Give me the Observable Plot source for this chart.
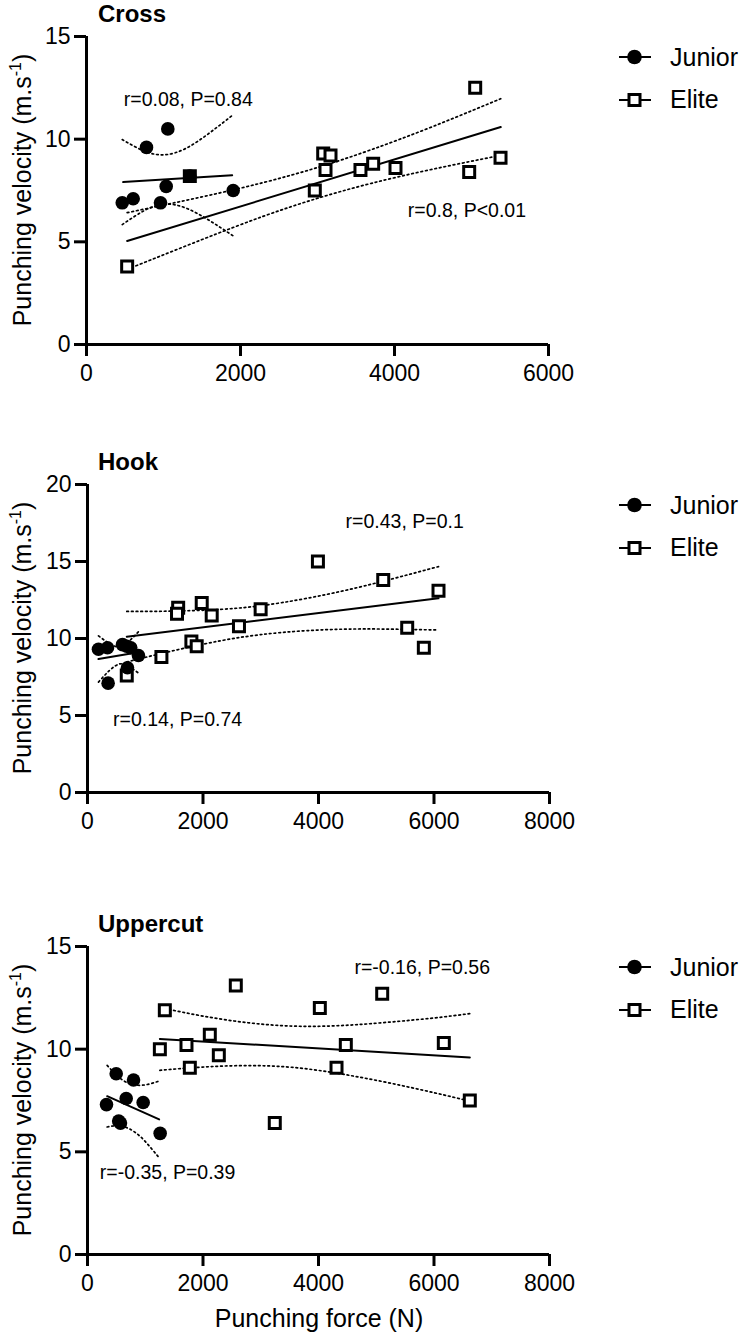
<!DOCTYPE html>
<html>
<head>
<meta charset="utf-8">
<script src="https://cdn.jsdelivr.net/npm/d3@7"></script>
<script src="https://cdn.jsdelivr.net/npm/@observablehq/plot@0.6"></script>
<style>
  html, body { margin: 0; padding: 0; background: #fff; }
  #root { position: relative; width: 746px; height: 1339px; overflow: hidden; background: #fff;
          font-family: "Liberation Sans", Arial, sans-serif; color: #000; }
  .panel { position: absolute; left: 0; }
  .title { position: absolute; font-weight: bold; font-size: 24px; line-height: 1; white-space: nowrap; }
  .ylab { position: absolute; font-size: 25px; line-height: 1; white-space: nowrap;
          transform: translate(-50%, -50%) rotate(-90deg); }
  .ylab .sup { font-size: 16px; vertical-align: 10px; line-height: 0; }
  .xlab { position: absolute; font-size: 25px; line-height: 1; white-space: nowrap; transform: translateX(-50%); }
  .legsym { position: absolute; width: 40px; height: 20px; }
  .legtxt { position: absolute; font-size: 25px; line-height: 1; white-space: nowrap; }
</style>
</head>
<body>
<div id="root"></div>
<script>
// ---------------- data ----------------
const panelTitles = ["Cross", "Hook", "Uppercut"];
const groups = ["Junior", "Elite"];
const xTicksCross = [0, 2000, 4000, 6000];
const xTicksOther = [0, 2000, 4000, 6000, 8000];
const yTicksCross = [0, 5, 10, 15];
const yTicksHook = [0, 5, 10, 15, 20];
const yTicksUppercut = [0, 5, 10, 15];

// Cross
const crossJuniorForce = [464, 606, 779, 1056, 1035, 961, 1342, 1905];
const crossJuniorVel   = [6.9, 7.1, 9.6, 10.5, 7.7, 6.9, 8.2, 7.5];
const crossEliteForce  = [528, 1342, 2965, 3074, 3169, 3104, 3558, 3723, 4013, 4970, 5377, 5048];
const crossEliteVel    = [3.8, 8.2, 7.5, 9.3, 9.2, 8.5, 8.5, 8.8, 8.6, 8.4, 9.1, 12.5];
const crossJuniorFitForce = [476, 1892];
const crossJuniorFitVel   = [7.91, 8.24];
const crossEliteFitForce  = [528, 5380];
const crossEliteFitVel    = [5.04, 10.59];
const crossJuniorBandForce = [464, 750, 1018, 1300, 1600, 1905];
const crossJuniorBandUpper = [9.98, 9.42, 9.24, 9.57, 10.31, 11.19];
const crossJuniorBandLower = [5.84, 6.52, 6.84, 6.63, 6.03, 5.29];
const crossEliteBandForce  = [528, 1500, 2300, 3000, 3700, 4500, 5380];
const crossEliteBandUpper  = [6.42, 7.19, 7.89, 8.62, 9.49, 10.62, 11.97];
const crossEliteBandLower  = [3.66, 5.11, 6.25, 7.12, 7.85, 8.54, 9.21];
const crossStats = ["r=0.08, P=0.84", "r=0.8, P<0.01"];

// Hook
const hookJuniorForce = [190, 346, 357, 606, 680, 749, 882, 692];
const hookJuniorVel   = [9.3, 9.4, 7.1, 9.6, 9.5, 9.4, 8.9, 8.1];
const hookEliteForce  = [680, 1280, 1570, 1550, 1978, 2151, 1799, 1891, 2623, 2998, 3990, 5121, 6078, 5536, 5824];
const hookEliteVel    = [7.6, 8.8, 12.0, 11.6, 12.3, 11.5, 9.8, 9.5, 10.8, 11.9, 15.0, 13.8, 13.1, 10.7, 9.4];
const hookJuniorFitForce = [190, 882];
const hookJuniorFitVel   = [8.67, 9.10];
const hookEliteFitForce  = [680, 6078];
const hookEliteFitVel    = [10.12, 12.61];
const hookJuniorBandForce = [190, 380, 560, 720, 882];
const hookJuniorBandUpper = [10.17, 9.67, 9.45, 9.82, 10.44];
const hookJuniorBandLower = [7.17, 7.92, 8.35, 8.18, 7.76];
const hookEliteBandForce  = [680, 1500, 2300, 3000, 3800, 4800, 6078];
const hookEliteBandUpper  = [11.76, 11.78, 11.89, 12.13, 12.61, 13.42, 14.67];
const hookEliteBandLower  = [8.48, 9.22, 9.85, 10.25, 10.51, 10.62, 10.55];
const hookStats = ["r=0.14, P=0.74", "r=0.43, P=0.1"];

// Uppercut
const uppercutJuniorForce = [329, 497, 797, 670, 964, 571, 540, 1258];
const uppercutJuniorVel   = [7.3, 8.8, 8.5, 7.6, 7.4, 6.4, 6.5, 5.9];
const uppercutEliteForce  = [1339, 1253, 1714, 2118, 2274, 1772, 2568, 3243, 4023, 5103, 4473, 4312, 6170, 6620];
const uppercutEliteVel    = [11.9, 10.0, 10.2, 10.7, 9.7, 9.1, 13.1, 6.4, 12.0, 12.7, 10.2, 9.1, 10.3, 7.5];
const uppercutJuniorFitForce = [340, 1241];
const uppercutJuniorFitVel   = [7.71, 6.58];
const uppercutEliteFitForce  = [1253, 6620];
const uppercutEliteFitVel    = [10.5, 9.6];
const uppercutJuniorBandForce = [340, 520, 703, 900, 1080, 1241];
const uppercutJuniorBandUpper = [9.21, 8.69, 8.35, 8.24, 8.31, 8.45];
const uppercutJuniorBandLower = [6.21, 6.27, 6.15, 5.78, 5.25, 4.71];
const uppercutEliteBandForce  = [1253, 2000, 2800, 3600, 4400, 5200, 6000, 6620];
const uppercutEliteBandUpper  = [12.03, 11.61, 11.28, 11.12, 11.15, 11.31, 11.52, 11.73];
const uppercutEliteBandLower  = [8.97, 9.13, 9.20, 9.10, 8.79, 8.37, 7.88, 7.47];
const uppercutStats = ["r=-0.35, P=0.39", "r=-0.16, P=0.56"];

const yTitle = "Punching velocity (m.s";
const ySup = "-1";
const xTitle = "Punching force (N)";

// ---------------- drawing ----------------
const pts = (xs, ys) => xs.map((x, i) => ({x, y: ys[i]}));
const root = document.getElementById("root");

function makePanel(c) {
  const dotted = {x: "x", y: "y", stroke: "black", strokeWidth: 1.7, strokeDasharray: "1.7 3", curve: "natural"};
  const solid = {x: "x", y: "y", stroke: "black", strokeWidth: 2};
  const notes = c.stats.map((t, i) => ({x: c.noteAt[i][0], y: c.noteAt[i][1], text: t}));
  const svg = Plot.plot({
    width: 746,
    height: c.height,
    marginTop: c.mt, marginBottom: c.mb, marginLeft: c.ml, marginRight: c.mr,
    x: {domain: [0, c.xMax]},
    y: {domain: [0, c.yMax]},
    style: {fontFamily: "Liberation Sans, Arial, sans-serif", color: "black", background: "transparent", overflow: "visible"},
    marks: [
      Plot.line(pts(c.jbx, c.jbu), dotted),
      Plot.line(pts(c.jbx, c.jbl), dotted),
      Plot.line(pts(c.ebx, c.ebu), dotted),
      Plot.line(pts(c.ebx, c.ebl), dotted),
      Plot.line(pts(c.jfx, c.jfy), solid),
      Plot.line(pts(c.efx, c.efy), solid),
      Plot.ruleX([0], {y1: 0, y2: c.yMax, stroke: "black", strokeWidth: 3}),
      Plot.ruleY([0], {x1: 0, x2: c.xMax, stroke: "black", strokeWidth: 3}),
      Plot.axisX({ticks: c.xTicks, tickSize: 12, tickPadding: 8, fontSize: 23, strokeWidth: 3,
                  label: null, tickFormat: d => String(d)}),
      Plot.axisY({ticks: c.yTicks, tickSize: 12, tickPadding: 4, fontSize: 23, strokeWidth: 3,
                  label: null, tickFormat: d => String(d)}),
      Plot.dot(pts(c.ex, c.ey), {x: "x", y: "y", symbol: "square", r: 6.2, fill: "white", stroke: "black", strokeWidth: 3}),
      Plot.dot(pts(c.jx, c.jy), {x: "x", y: "y", r: 6.8, fill: "black", stroke: "none"}),
      Plot.text(notes, {x: "x", y: "y", text: "text", textAnchor: "start", fontSize: 19.5, fill: "black"})
    ]
  });
  svg.classList.add("panel");
  svg.style.top = c.top + "px";
  root.appendChild(svg);

  // title
  const t = document.createElement("div");
  t.className = "title";
  t.textContent = c.title;
  t.style.left = "98px";
  t.style.top = (c.top + c.mt - 14 - 20.3) + "px";
  root.appendChild(t);

  // y label
  const yl = document.createElement("div");
  yl.className = "ylab";
  yl.innerHTML = yTitle + '<span class="sup">' + ySup + '</span>)';
  yl.style.left = "22px";
  yl.style.top = (c.top + c.mt + (c.height - c.mt - c.mb) / 2) + "px";
  root.appendChild(yl);

  // legend
  groups.forEach((g, i) => {
    const cy = c.top + c.mt + 21 + i * 42.6;
    const s = document.createElement("div");
    s.className = "legsym";
    s.style.left = "616px";
    s.style.top = (cy - 10) + "px";
    const mark = i === 0
      ? '<circle cx="18.5" cy="10" r="7.3" fill="black"/>'
      : '<rect x="13" y="4.5" width="11" height="11" fill="white" stroke="black" stroke-width="3"/>';
    s.innerHTML = '<svg width="40" height="20"><line x1="3" x2="35" y1="10" y2="10" stroke="black" stroke-width="2"/>' + mark + '</svg>';
    root.appendChild(s);
    const lt = document.createElement("div");
    lt.className = "legtxt";
    lt.textContent = g;
    lt.style.left = "670px";
    lt.style.top = (cy - 12.2) + "px";
    root.appendChild(lt);
  });
}

makePanel({
  title: panelTitles[0], top: 0, height: 400, mt: 36, mb: 56, ml: 86, mr: 198,
  xMax: 6000, yMax: 15, xTicks: xTicksCross, yTicks: yTicksCross,
  jx: crossJuniorForce, jy: crossJuniorVel, ex: crossEliteForce, ey: crossEliteVel,
  jfx: crossJuniorFitForce, jfy: crossJuniorFitVel, efx: crossEliteFitForce, efy: crossEliteFitVel,
  jbx: crossJuniorBandForce, jbu: crossJuniorBandUpper, jbl: crossJuniorBandLower,
  ebx: crossEliteBandForce, ebu: crossEliteBandUpper, ebl: crossEliteBandLower,
  stats: crossStats, noteAt: [[484, 11.9], [4173, 6.5]]
});

makePanel({
  title: panelTitles[1], top: 440, height: 400, mt: 44, mb: 48, ml: 87, mr: 197,
  xMax: 8000, yMax: 20, xTicks: xTicksOther, yTicks: yTicksHook,
  jx: hookJuniorForce, jy: hookJuniorVel, ex: hookEliteForce, ey: hookEliteVel,
  jfx: hookJuniorFitForce, jfy: hookJuniorFitVel, efx: hookEliteFitForce, efy: hookEliteFitVel,
  jbx: hookJuniorBandForce, jbu: hookJuniorBandUpper, jbl: hookJuniorBandLower,
  ebx: hookEliteBandForce, ebu: hookEliteBandUpper, ebl: hookEliteBandLower,
  stats: hookStats, noteAt: [[443, 4.7], [4469, 17.6]]
});

makePanel({
  title: panelTitles[2], top: 900, height: 439, mt: 46, mb: 85, ml: 87, mr: 197,
  xMax: 8000, yMax: 15, xTicks: xTicksOther, yTicks: yTicksUppercut,
  jx: uppercutJuniorForce, jy: uppercutJuniorVel, ex: uppercutEliteForce, ey: uppercutEliteVel,
  jfx: uppercutJuniorFitForce, jfy: uppercutJuniorFitVel, efx: uppercutEliteFitForce, efy: uppercutEliteFitVel,
  jbx: uppercutJuniorBandForce, jbu: uppercutJuniorBandUpper, jbl: uppercutJuniorBandLower,
  ebx: uppercutEliteBandForce, ebu: uppercutEliteBandUpper, ebl: uppercutEliteBandLower,
  stats: uppercutStats, noteAt: [[213, 3.96], [4623, 13.96]]
});

const xl = document.createElement("div");
xl.className = "xlab";
xl.textContent = xTitle;
xl.style.left = "319px";
xl.style.top = "1306px";
root.appendChild(xl);
</script>
</body>
</html>
